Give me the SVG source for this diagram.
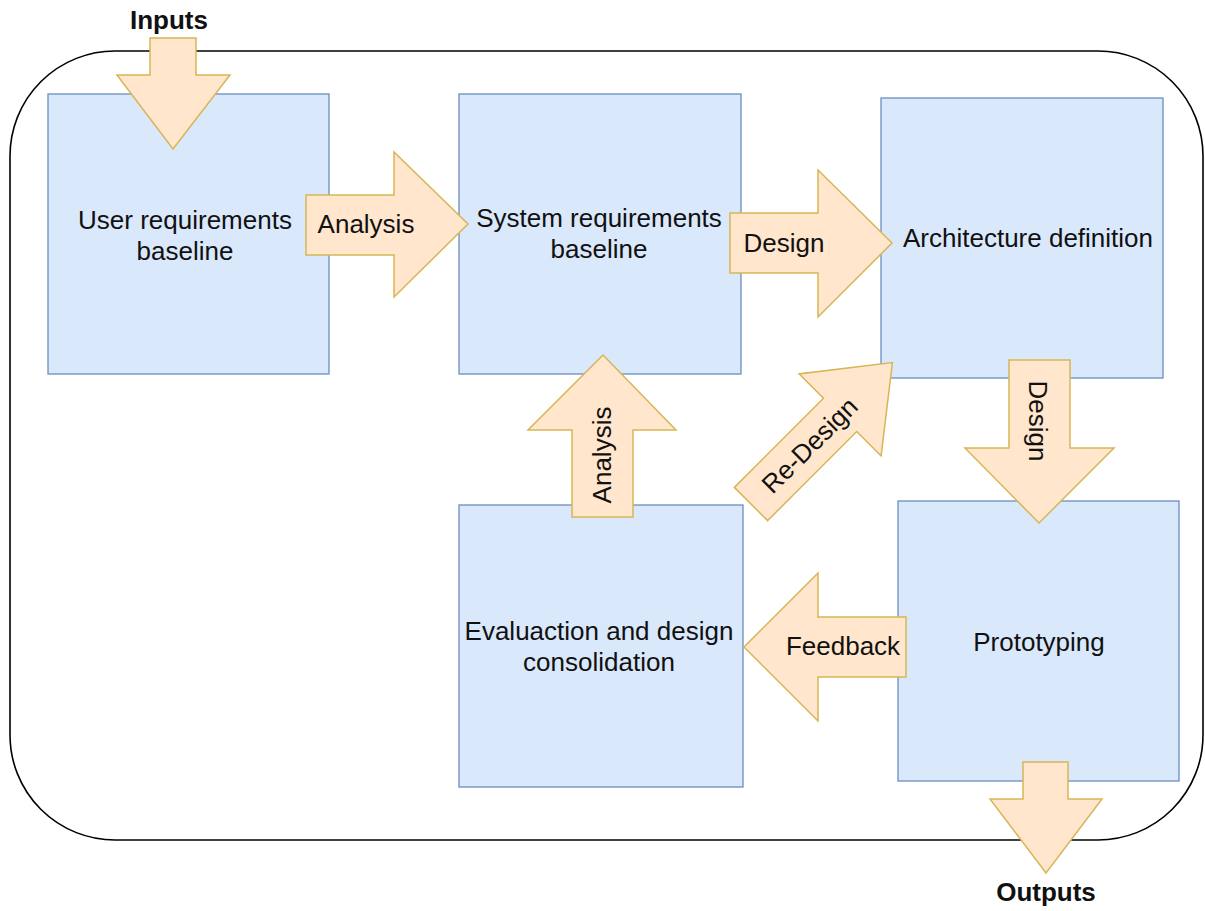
<svg xmlns="http://www.w3.org/2000/svg" width="1205" height="911" viewBox="0 0 1205 911">
  <style>
    .box { fill: #dae8fc; stroke: #6c8ebf; stroke-width: 1.3; }
    .arrow { fill: #ffe6cc; stroke: #d6b656; stroke-width: 1.5; stroke-linejoin: miter; }
    .t { font-family: "Liberation Sans", Arial, Helvetica, sans-serif; font-size: 26px; fill: #111; text-anchor: middle; }
    .b { font-weight: bold; }
    .frame { fill: #ffffff; stroke: #000; stroke-width: 1.6; }
  </style>
  <rect x="0" y="0" width="1205" height="911" fill="#ffffff"/>
  <g id="frame">
    <rect class="frame" x="10" y="51" width="1193" height="789" rx="105" ry="105"/>
  </g>
  <g id="node-user">
    <rect class="box" x="48" y="94" width="281" height="280"/>
    <text class="t" x="185" y="229">User requirements</text>
    <text class="t" x="185" y="260">baseline</text>
  </g>
  <g id="node-system">
    <rect class="box" x="459" y="94" width="282" height="280"/>
    <text class="t" x="599" y="227">System requirements</text>
    <text class="t" x="599" y="258">baseline</text>
  </g>
  <g id="node-architecture">
    <rect class="box" x="881" y="98" width="282" height="280"/>
    <text class="t" x="1028" y="247">Architecture definition</text>
  </g>
  <g id="node-evaluation">
    <rect class="box" x="459" y="505" width="284" height="282"/>
    <text class="t" x="599" y="640">Evaluaction and design</text>
    <text class="t" x="599" y="671">consolidation</text>
  </g>
  <g id="node-prototyping">
    <rect class="box" x="898" y="501" width="281" height="280"/>
    <text class="t" x="1039" y="651">Prototyping</text>
  </g>
  <g id="connectors">
    <g id="arrow-inputs">
      <path class="arrow" d="M150,38 L196,38 L196,75 L230,75 L173,149 L117,75 L150,75 Z"/>
      <text class="t b" x="169" y="29">Inputs</text>
    </g>
    <g id="arrow-analysis">
      <path class="arrow" d="M306,195 L394,195 L394,152 L468,224 L394,297 L394,255 L306,255 Z"/>
      <text class="t" x="366" y="233">Analysis</text>
    </g>
    <g id="arrow-design">
      <path class="arrow" d="M730,213 L818,213 L818,170 L892,243 L818,317 L818,273 L730,273 Z"/>
      <text class="t" x="784" y="252">Design</text>
    </g>
    <g id="arrow-design-down">
      <path class="arrow" d="M1009,360 L1070,360 L1070,448 L1114,448 L1039,523 L965,448 L1009,448 Z"/>
      <text class="t" transform="translate(1029,421) rotate(90)" x="0" y="0">Design</text>
    </g>
    <g id="arrow-feedback">
      <path class="arrow" d="M906,617 L906,677 L818,677 L818,721 L744,647 L818,573 L818,617 Z"/>
      <text class="t" x="843" y="655">Feedback</text>
    </g>
    <g id="arrow-analysis-up">
      <path class="arrow" d="M572,517 L572,430 L528,430 L603,355 L676,430 L633,430 L633,517 Z"/>
      <text class="t" transform="translate(611,455) rotate(-90)" x="0" y="0">Analysis</text>
    </g>
    <g id="arrow-redesign" transform="translate(751,504) rotate(-45)">
      <path class="arrow" d="M0,-23.5 L126,-23.5 L126,-58 L200,0 L126,58 L126,23.5 L0,23.5 Z"/>
      <text class="t" x="83" y="9">Re-Design</text>
    </g>
    <g id="arrow-outputs">
      <path class="arrow" d="M1023,762 L1068,762 L1068,799 L1102,799 L1046,873 L990,799 L1023,799 Z"/>
      <text class="t b" x="1046" y="901">Outputs</text>
    </g>
  </g>
</svg>
